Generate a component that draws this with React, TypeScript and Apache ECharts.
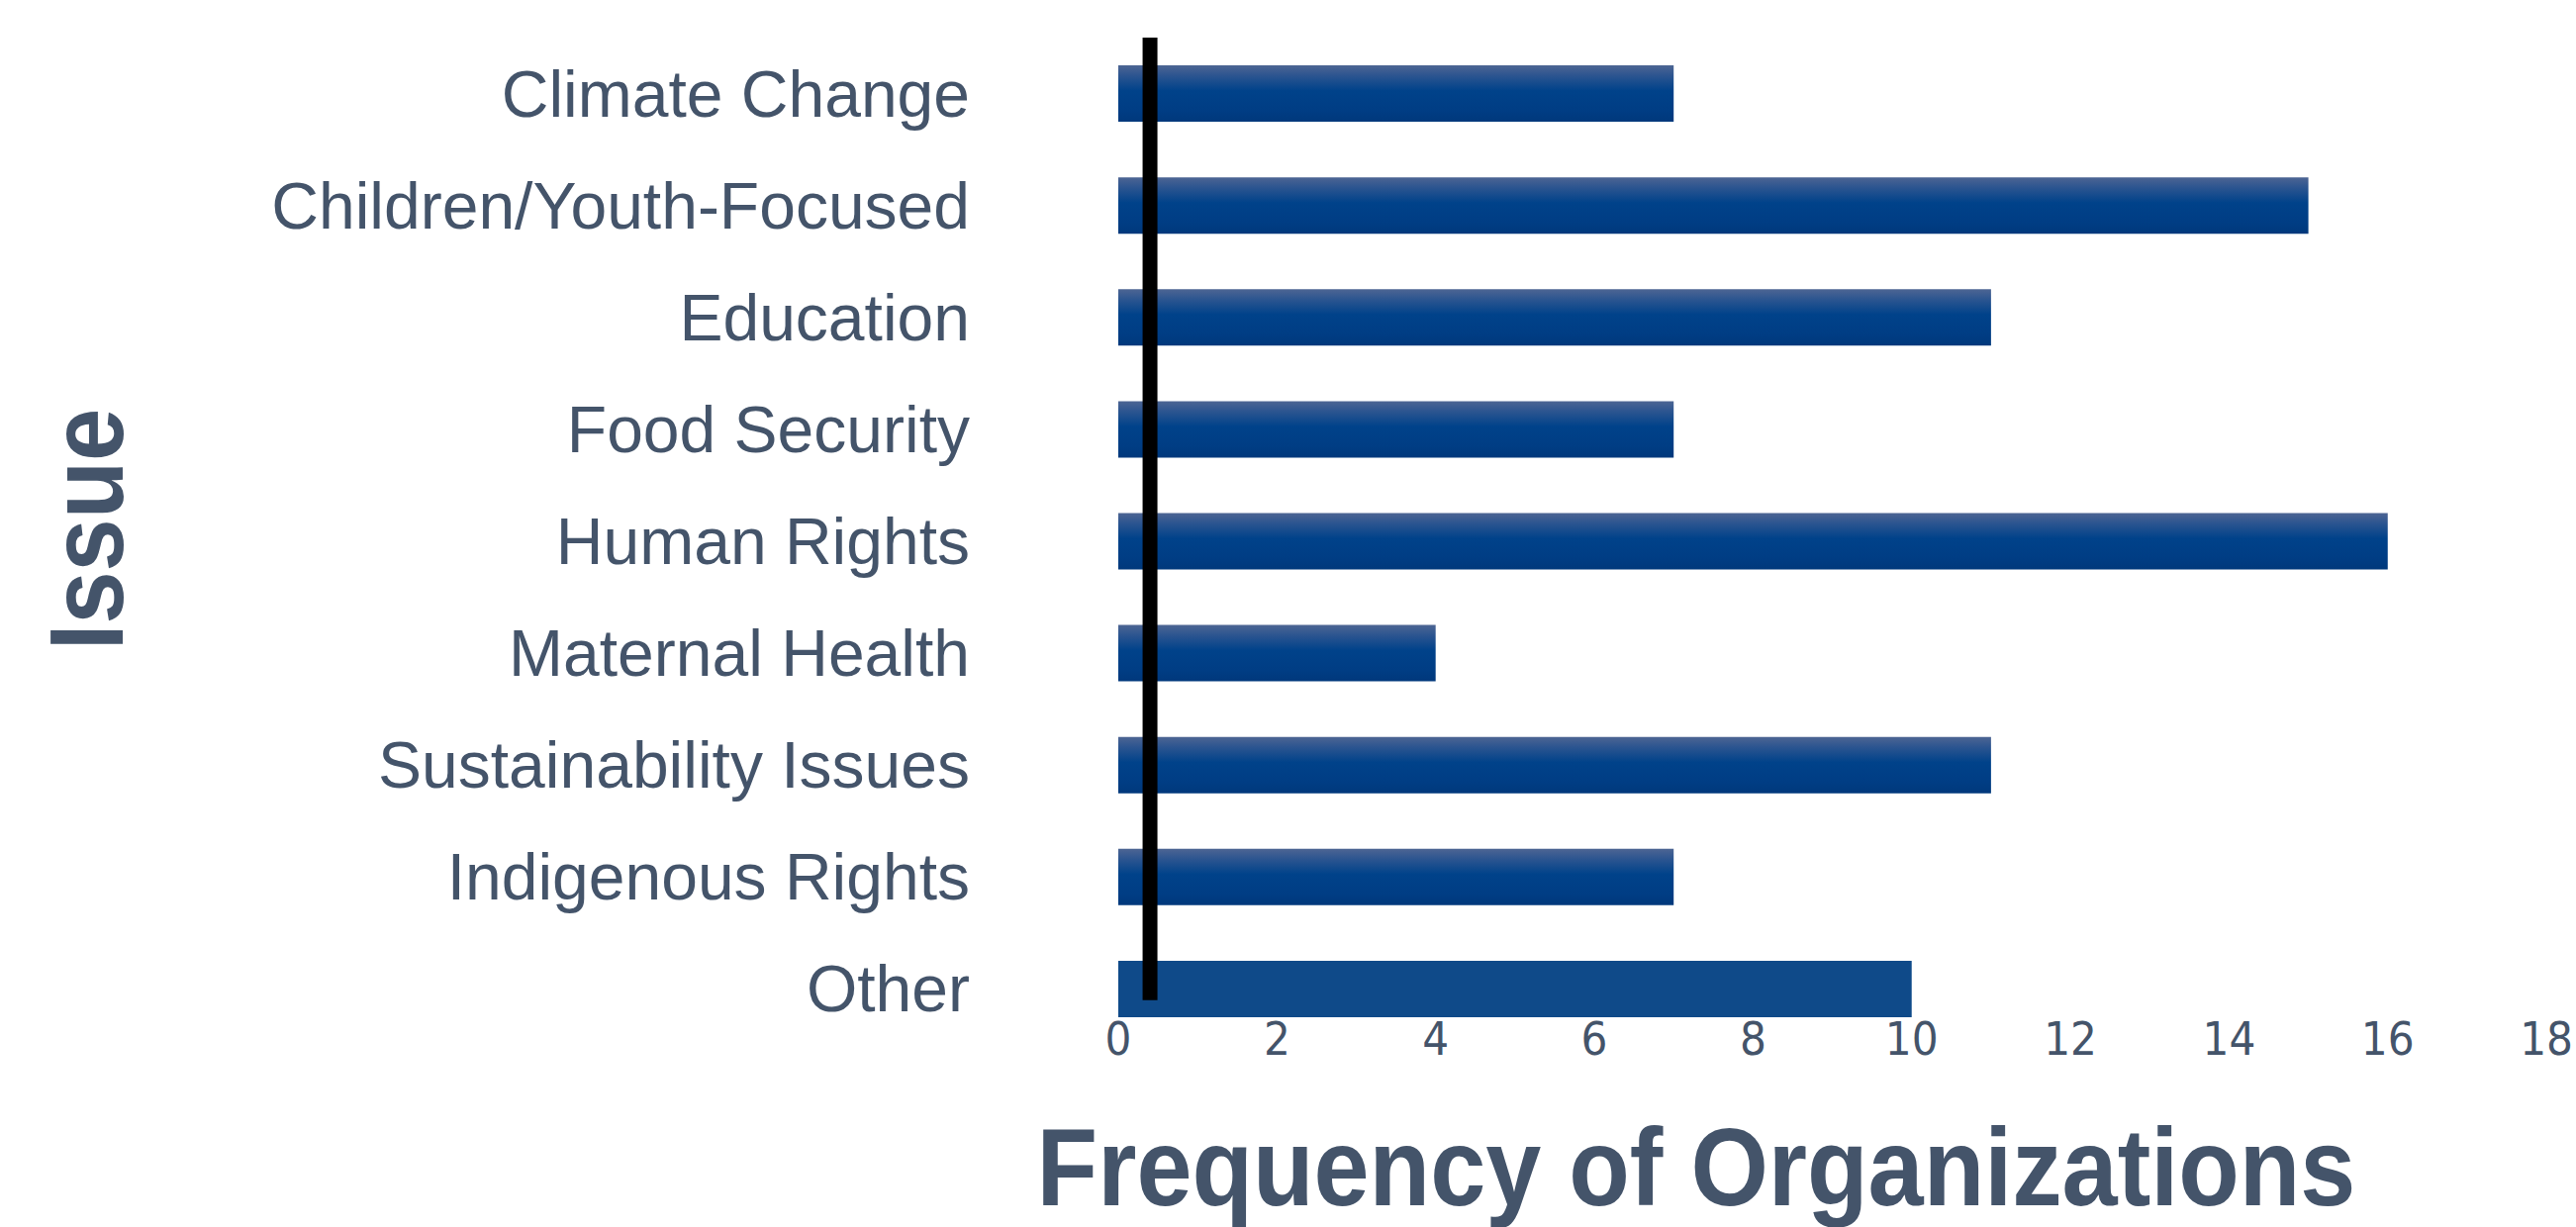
import React, { useEffect, useRef } from 'react';
import * as echarts from 'echarts';

const categories = [
  'Climate Change',
  'Children/Youth-Focused',
  'Education',
  'Food Security',
  'Human Rights',
  'Maternal Health',
  'Sustainability Issues',
  'Indigenous Rights',
  'Other',
];
const values = [7, 15, 11, 7, 16, 4, 11, 7, 10];
const flatCategory = 'Other';

const xMin = 0;
const xMax = 18;
const xInterval = 2;

const refLineX = 0.4;
const refLineSpan = [0, 8.6];

const xTitle = 'Frequency of Organizations';
const yTitle = 'Issue';

const TEXT_COLOR = '#44546a';

export default function App() {
  const ref = useRef<HTMLDivElement>(null);

  useEffect(() => {
    document.body.style.margin = '0';
    document.body.style.overflow = 'hidden';
    const chart = echarts.init(ref.current!, null, { renderer: 'svg' });

    const gradient = new echarts.graphic.LinearGradient(0, 0, 0, 1, [
      { offset: 0, color: '#4d6593' },
      { offset: 0.18, color: '#2c5590' },
      { offset: 0.45, color: '#00428a' },
      { offset: 0.8, color: '#003d84' },
      { offset: 1, color: '#00387b' },
    ]);

    chart.setOption({
      animation: false,
      grid: { left: 1130, right: 25, top: 38, bottom: 184, containLabel: false },
      xAxis: [
        {
          type: 'value',
          min: xMin,
          max: xMax,
          interval: xInterval,
          axisLine: { show: false },
          axisTick: { show: false },
          splitLine: { show: false },
          axisLabel: {
            color: TEXT_COLOR,
            fontSize: 47,
            fontFamily: '"DejaVu Sans Condensed", "Liberation Sans", sans-serif',
            margin: -30,
          },
        },
      ],
      yAxis: [
        {
          type: 'category',
          data: categories,
          inverse: true,
          axisLine: { show: false },
          axisTick: { show: false },
          splitLine: { show: false },
          axisLabel: {
            color: TEXT_COLOR,
            fontSize: 66,
            fontFamily: '"Liberation Sans", Arial, sans-serif',
            margin: 150,
          },
        },
        { type: 'value', min: 0, max: 9, inverse: true, show: false },
      ],
      series: [
        {
          type: 'bar',
          yAxisIndex: 0,
          barWidth: 57,
          itemStyle: { color: gradient },
          data: values.map((v, i) => ({
            value: v,
            itemStyle: categories[i] === flatCategory ? { color: '#0f4a89' } : undefined,
          })),
        },
        {
          type: 'line',
          xAxisIndex: 0,
          yAxisIndex: 1,
          data: [
            [refLineX, refLineSpan[0]],
            [refLineX, refLineSpan[1]],
          ],
          symbol: 'none',
          clip: false,
          silent: true,
          z: 5,
          lineStyle: { color: '#000000', width: 15 },
        },
      ],
      graphic: [
        {
          type: 'text',
          x: 1714,
          y: 1180,
          scaleX: 0.9,
          style: {
            text: xTitle,
            fill: TEXT_COLOR,
            font: 'bold 112px "Liberation Sans", sans-serif',
            align: 'center',
            verticalAlign: 'middle',
          },
        },
        {
          type: 'text',
          x: 87,
          y: 535,
          rotation: Math.PI / 2,
          scaleX: 0.91,
          style: {
            text: yTitle,
            fill: TEXT_COLOR,
            font: 'bold 105px "Liberation Sans", sans-serif',
            align: 'center',
            verticalAlign: 'middle',
          },
        },
      ],
    });

    return () => chart.dispose();
  }, []);

  return <div ref={ref} style={{ width: 2603, height: 1240 }} />;
}
